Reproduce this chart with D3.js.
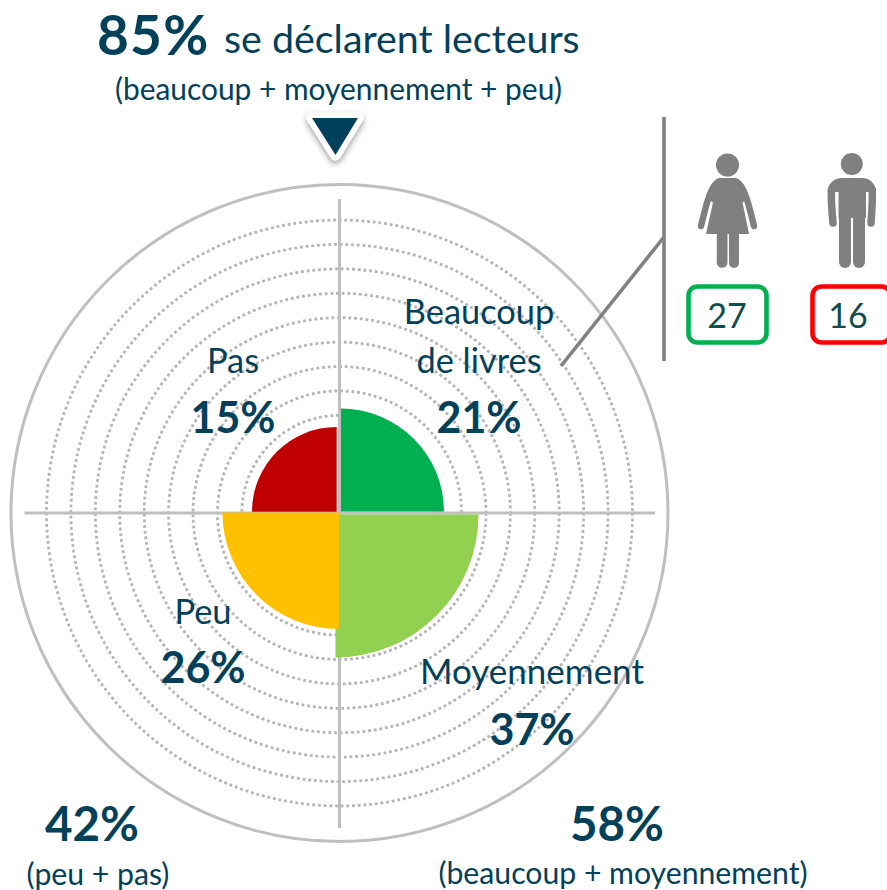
<!DOCTYPE html>
<html lang="fr">
<head>
<meta charset="utf-8">
<script src="https://cdn.jsdelivr.net/npm/d3@7"></script>
<style>
html,body{margin:0;padding:0;background:#fff;overflow:hidden}
svg{display:block}
text{font-family:Lato,"Open Sans",sans-serif;fill:#03405a}
</style>
</head>
<body>
<svg id="chart" width="887" height="890"></svg>
<script>
// Data
const categories = ["Beaucoup de livres", "Moyennement", "Peu", "Pas"];
const values = [21, 37, 26, 15];
const sectorColors = ["#00b050", "#92d050", "#ffc000", "#c00000"];
const ringLevels = [4, 5, 6, 7, 8, 9, 10, 11, 12];
const genderValues = [27, 16];
const totalReaders = 85;
const totalHigh = 58;
const totalLow = 42;

const W = 887, H = 890, cx = 339.5, cy = 513;
const dark = "#03405a", guide = "#bfbfbf", iconGrey = "#808080";
const svg = d3.select("#chart");

const defs = svg.append("defs");
const f = defs.append("filter").attr("id","sh").attr("x","-40%").attr("y","-40%").attr("width","180%").attr("height","180%");
f.append("feDropShadow").attr("dx",0).attr("dy",3).attr("stdDeviation",3).attr("flood-color","#000").attr("flood-opacity",0.4);

// Scales
const ringScale = d3.scaleLinear().domain([0, 12]).range([0, 293]);
const radius = d3.scalePow().exponent(0.58).domain([0, 37]).range([0, 143]);
const arc = d3.arc().innerRadius(0);

// Rings
const plot = svg.append("g").attr("transform", `translate(${cx},${cy})`);
plot.selectAll("circle.ring").data(ringLevels).join("circle")
  .attr("class","ring").attr("r", d => ringScale(d))
  .attr("fill","none").attr("stroke","#b4b4b4").attr("stroke-width",2.8)
  .attr("stroke-dasharray","2.8 2.9");
plot.append("circle").attr("r",328.5).attr("fill","none").attr("stroke",guide).attr("stroke-width",3);

// Sectors (each quadrant is nudged slightly off the centre, as in the source)
const sectorOffsets = [[1.5,-1.5],[-4,1.5],[-0.5,-0.5],[-2.8,-1.3]];
const sectorDraw = [1,2,0,3];
svg.append("g").selectAll("path").data(sectorDraw).join("path")
  .attr("transform", i => `translate(${cx+sectorOffsets[i][0]},${cy+sectorOffsets[i][1]})`)
  .attr("d", i => arc({outerRadius: radius(values[i]), startAngle: i*Math.PI/2, endAngle: (i+1)*Math.PI/2}))
  .attr("fill", i => sectorColors[i]);

// Cross axes
plot.append("line").attr("x1",0).attr("x2",0).attr("y1",-314).attr("y2",315).attr("stroke",guide).attr("stroke-width",3);
plot.append("line").attr("x1",-315).attr("x2",315.5).attr("y1",0).attr("y2",0).attr("stroke",guide).attr("stroke-width",3);

// Marker triangle
svg.append("path").attr("d","M312,118 H358 L335.5,155 Z")
  .attr("fill",dark).attr("stroke","#fff").attr("stroke-width",11).attr("stroke-linejoin","round")
  .attr("paint-order","stroke").attr("filter","url(#sh)");

// Leader lines
svg.append("line").attr("x1",664).attr("x2",664).attr("y1",117).attr("y2",361).attr("stroke",iconGrey).attr("stroke-width",3.6);
svg.append("line").attr("x1",664).attr("y1",237).attr("x2",561).attr("y2",366).attr("stroke",iconGrey).attr("stroke-width",3.6);

// Woman icon
const woman = svg.append("g").attr("fill",iconGrey);
woman.append("circle").attr("cx",727.5).attr("cy",165).attr("r",11.5);
woman.append("path").attr("d","M720,178 H735 L742,200 L749,234 H706 L713.5,200 Z");
woman.append("path").attr("d","M720,178 H735 C741,179 746,187 749,197 L742,203 H713.5 L706,197 C709,187 714,179 720,178 Z");
woman.append("path").attr("d","M720,181 C711,184 706,205 701,226").attr("fill","none").attr("stroke",iconGrey).attr("stroke-width",6.5).attr("stroke-linecap","round");
woman.append("path").attr("d","M735,181 C744,184 749,205 754,226").attr("fill","none").attr("stroke",iconGrey).attr("stroke-width",6.5).attr("stroke-linecap","round");
woman.append("path").attr("d","M716.8,230 H727.5 V262.5 A5.35,5.35 0 0 1 716.8,262.5 Z");
woman.append("path").attr("d","M729,230 H739 V263 A5,5 0 0 1 729,263 Z");

// Man icon
const man = svg.append("g").attr("fill",iconGrey);
man.append("circle").attr("cx",851.8).attr("cy",164).attr("r",11);
man.append("path").attr("d","M842,178 H862 C870,178 876,184 876,192 H827.5 C827.5,184 834,178 842,178 Z");
man.append("path").attr("d","M838.5,185 H866 V218 H838.5 Z");
man.append("path").attr("d","M839,216 H851 V262 A6,6 0 0 1 839,262 Z");
man.append("path").attr("d","M853,216 H865 V262 A6,6 0 0 1 853,262 Z");
man.append("path").attr("d","M831.5,190 C831,198 831.5,207 833,223").attr("fill","none").attr("stroke",iconGrey).attr("stroke-width",7.5).attr("stroke-linecap","round");
man.append("path").attr("d","M872.2,190 C872.7,198 872.2,207 871,223").attr("fill","none").attr("stroke",iconGrey).attr("stroke-width",7.5).attr("stroke-linecap","round");

// Gender boxes
const boxColors = ["#00b050","#ff0000"], boxX = [688.5,812.5], boxText = [727,848];
genderValues.forEach((v,i)=>{
  svg.append("rect").attr("x",boxX[i]).attr("y",286.5).attr("width",78).attr("height",56).attr("rx",9)
    .attr("fill","#fff").attr("stroke",boxColors[i]).attr("stroke-width",4.6);
  svg.append("text").attr("x",boxText[i]).attr("y",328).attr("text-anchor","middle")
    .style("fill","#114d4f").style("font-size","34px").text(v);
});

// Text helper
function label(t,x,y,size,bold,anchor="middle"){
  return svg.append("text").attr("x",x).attr("y",y).attr("text-anchor",anchor)
    .style("font-size",size+"px").style("font-weight",bold?700:400).text(t);
}
const pct = v => v + "%";

// Header
label(pct(totalReaders),97,54.5,55,true,"start").style("letter-spacing","1.2px");
label("se déclarent lecteurs",224,53,39.4,false,"start");
label("(beaucoup + moyennement + peu)",338.5,100,29.9,false);

// Category labels
label("Beaucoup",479,324,34.4,false);
label("de livres",479,373,34.4,false);
label(pct(values[0]),479,433,43,true);
label(categories[3],233,373,34.4,false);
label(pct(values[3]),233,433,43,true);
label(categories[2],203,624,34.4,false);
label(pct(values[2]),203,683,43,true);
label(categories[1],532,684,35,false);
label(pct(values[1]),532,745,43,true);

// Totals
label(pct(totalLow),92,841,47.5,true);
label("(peu + pas)",98,885,30.2,false);
label(pct(totalHigh),617,841,47.5,true);
label("(beaucoup + moyennement)",623,884,30.2,false);
</script>
</body>
</html>
